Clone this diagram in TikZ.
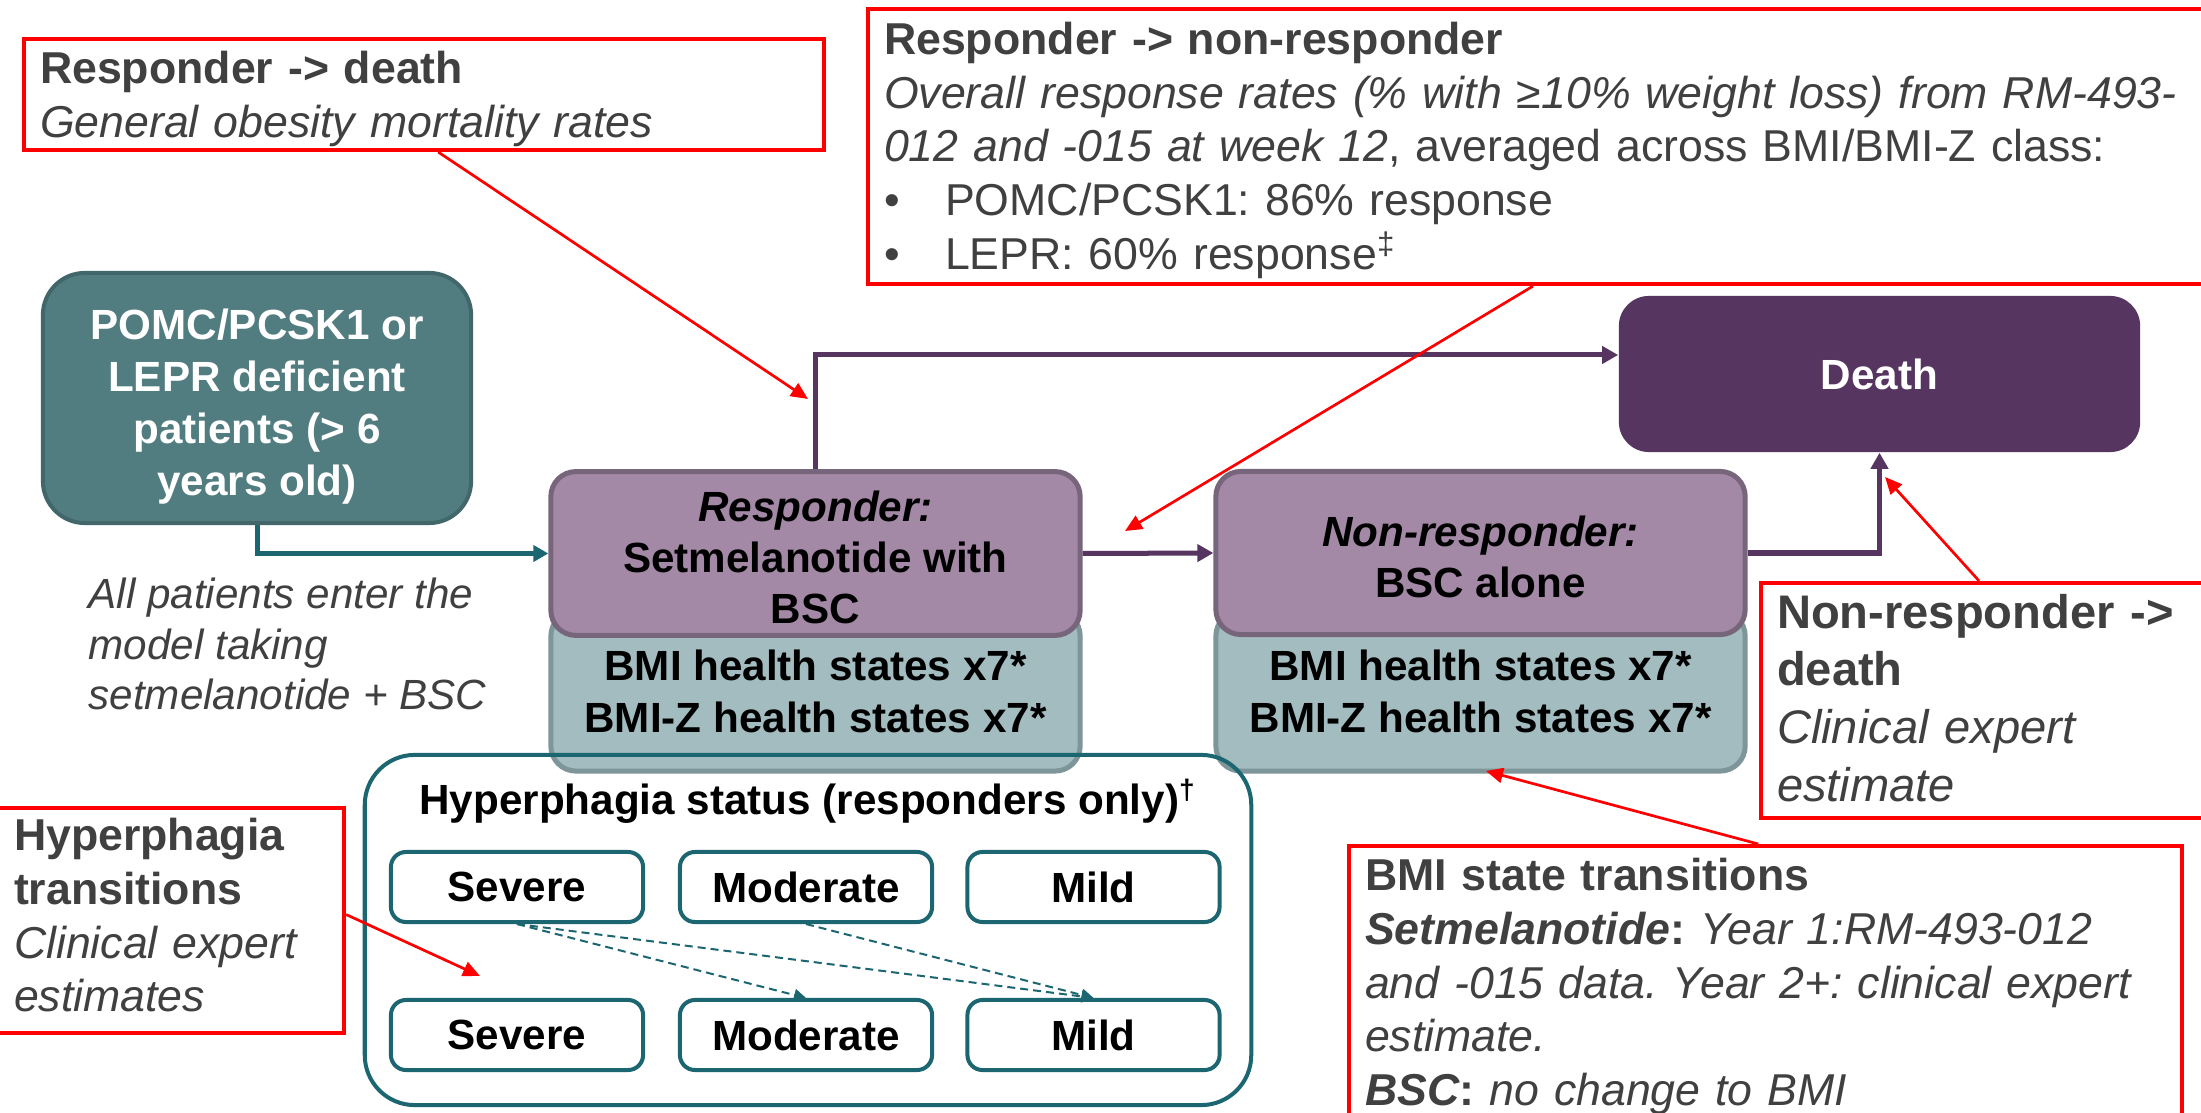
\documentclass[tikz,border=0pt]{standalone}
\usepackage{fontspec}
\setmainfont{Liberation Sans}
\usetikzlibrary{arrows.meta,positioning}

\definecolor{calloutred}{HTML}{FF0000}
\definecolor{notegray}{HTML}{404040}
\definecolor{entryfill}{HTML}{527D80}
\definecolor{entrydraw}{HTML}{41676A}
\definecolor{hyperteal}{HTML}{1B6670}
\definecolor{armfill}{HTML}{A389A6}
\definecolor{armdraw}{HTML}{77657C}
\definecolor{bmifill}{HTML}{A3BCC0}
\definecolor{bmidraw}{HTML}{7E9599}
\definecolor{deathpurple}{HTML}{563560}

\tikzset{
  note/.style={draw=calloutred, line width=0.04cm, text=notegray, anchor=north west,
    align=left, inner xsep=0.16cm, inner ysep=0pt, font=\fontsize{12.7}{15.3}\selectfont},
  notearrow/.style={calloutred, line width=0.027cm, -{Triangle[length=0.17cm,width=0.15cm]}},
  entry/.style={draw=entrydraw, fill=entryfill, line width=0.04cm, rounded corners=0.42cm,
    minimum width=4.28cm, minimum height=2.5cm, align=center, text=white,
    font=\bfseries\fontsize{12}{14.8}\selectfont},
  entryarrow/.style={hyperteal, line width=0.05cm, -{Triangle[length=0.15cm,width=0.16cm]}},
  arm/.style={draw=armdraw, fill=armfill, line width=0.05cm, rounded corners=0.25cm,
    minimum width=5.29cm, minimum height=1.63cm, align=center,
    font=\bfseries\fontsize{12}{14.4}\selectfont},
  bmibox/.style={draw=bmidraw, fill=bmifill, line width=0.05cm, rounded corners=0.25cm,
    minimum width=5.29cm, minimum height=1.6cm, align=center,
    font=\bfseries\fontsize{12}{14.8}\selectfont},
  deathbox/.style={fill=deathpurple, rounded corners=0.3cm, minimum width=5.21cm,
    minimum height=1.56cm, text=white, font=\bfseries\fontsize{12}{14.4}\selectfont},
  flow/.style={deathpurple, line width=0.05cm, -{Triangle[length=0.16cm,width=0.17cm]}},
  hyper/.style={draw=hyperteal, line width=0.04cm, rounded corners=0.15cm,
    minimum width=2.52cm, minimum height=0.7cm, font=\bfseries\fontsize{12}{14}\selectfont},
  hyperarrow/.style={hyperteal, line width=0.02cm, dash pattern=on 0.08cm off 0.05cm,
    -{Triangle[length=0.12cm,width=0.12cm]}},
}

\begin{document}
\frenchspacing
\begin{tikzpicture}[x=0.01cm, y=-0.01cm]
    \useasboundingbox (0,0) rectangle (2201,1113);
    \fill[white] (0,0) rectangle (2201,1113);

    % model states
    \node[entry] (entry) at (257,398)
      {\rule{0pt}{13.8pt}POMC/PCSK1 or\\LEPR deficient\\patients (> 6\\years old)};
    \node[anchor=west, inner sep=0pt, align=left, text=notegray,
      font=\itshape\fontsize{12}{14.4}\selectfont] (entrynote) at (88,644)
      {All patients enter the\\model taking\\setmelanotide + BSC};

    \node[bmibox] (respbmi) at (815.5,691) {BMI health states x7*\\BMI-Z health states x7*};
    \node[arm] (resp) at (815.5,553.5) {\rule{0pt}{11pt}\textit{Responder:}\\Setmelanotide with\\BSC};
    \node[bmibox] (nonbmi) at (1480.5,691) {BMI health states x7*\\BMI-Z health states x7*};
    \node[arm] (nonresp) at (1480.5,553) {\rule{0pt}{11pt}\textit{Non-responder:}\\BSC alone};
    \node[deathbox] (death) at (1879.5,374) {Death};

    % hyperphagia sub-model
    \node[draw=hyperteal, line width=0.04cm, rounded corners=0.5cm, minimum width=8.86cm,
      minimum height=3.5cm] (hyperbox) at (808,930) {};
    \node[font=\bfseries\fontsize{12}{14}\selectfont] (hypertitle) at (808,801)
      {Hyperphagia status (responders only)\textsuperscript{†}};
    \node[hyper] (sev1) at (517,887) {Severe};
    \node[hyper] (mod1) at (806,887) {Moderate};
    \node[hyper] (mild1) at (1093.5,887) {Mild};
    \node[hyper] (sev2) at (517,1035) {Severe};
    \node[hyper] (mod2) at (806,1035) {Moderate};
    \node[hyper] (mild2) at (1093.5,1035) {Mild};

    \draw[hyperarrow] (sev1.south) -- (mod2.north);
    \draw[hyperarrow] (sev1.south) -- (mild2.north);
    \draw[hyperarrow] (mod1.south) -- (mild2.north);

    \draw[entryarrow] (entry.south) |- (resp.west);
    \draw[flow] (resp.north) |- ([yshift=0.19cm]death.west);
    \draw[flow] (resp.east) -- (nonresp.west);
    \draw[flow] (nonresp.east) -| (death.south);

    % sources
    \node[note, minimum width=8cm, minimum height=1.11cm, text width=7.68cm] (rdnote) at (22,37)
      {\rule{0pt}{11.7pt}\textbf{Responder -> death}\\\textit{General obesity mortality rates}};
    \node[note, minimum width=13.49cm, minimum height=2.75cm, text width=13.17cm] (rnrnote) at (866,7)
      {\rule{0pt}{11.3pt}\textbf{Responder -> non-responder}\\
       \textit{Overall response rates (\% with ≥10\% weight loss) from RM-493-}\\
       \textit{012 and -015 at week 12}, averaged across BMI/BMI-Z class:\\
       \makebox[0.61cm][l]{•}POMC/PCSK1: 86\% response\\
       \makebox[0.61cm][l]{•}LEPR: 60\% response\textsuperscript{‡}};
    \node[note, minimum width=3.46cm, minimum height=2.25cm, text width=3.14cm] (htnote) at (-4,806)
      {\textbf{Hyperphagia}\\\textbf{transitions}\\\textit{Clinical expert}\\
       \textit{estimates}\rule[-3.2pt]{0pt}{3.2pt}};
    \node[note, minimum width=4.56cm, minimum height=2.35cm, text width=4.24cm,
      font=\fontsize{13.4}{16.4}\selectfont] (nrdnote) at (1759,581)
      {\textbf{Non-responder ->}\\\textbf{death}\\\textit{Clinical expert}\\
       \textit{estimate}\rule[-1.6pt]{0pt}{1.6pt}};
    \node[note, minimum width=8.32cm, minimum height=2.81cm, text width=8cm] (bstnote) at (1347,844)
      {\textbf{BMI state transitions}\\
       \textbf{\textit{Setmelanotide}:} \textit{Year 1:RM-493-012}\\
       \textit{and -015 data. Year 2+: clinical expert}\\
       \textit{estimate.}\\
       \textbf{\textit{BSC}:} \textit{no change to BMI}};

    \coordinate (rdtip) at (808,399);
    \coordinate (rnrtip) at (1125,531);
    \coordinate (nrdtip) at (1885,477);
    \coordinate (bsttip) at (1486,771);
    \coordinate (httip) at (480,976);

    \draw[notearrow] ([xshift=0.14cm]rdnote.south) -- (rdtip);
    \draw[notearrow] ([xshift=-0.1cm]rnrnote.south) -- (rnrtip);
    \draw[notearrow] ([xshift=-0.1cm]nrdnote.north) -- (nrdtip);
    \draw[notearrow] ([xshift=-0.07cm]bstnote.north) -- (bsttip);
    \draw[notearrow] ([yshift=0.06cm]htnote.east) -- (httip);
\end{tikzpicture}
\end{document}
